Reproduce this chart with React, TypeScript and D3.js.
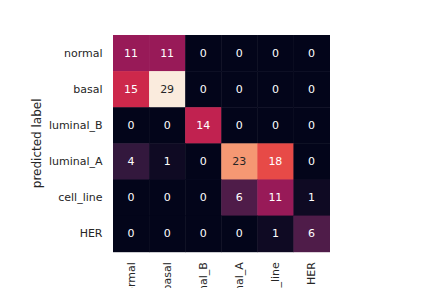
import React, { useRef, useEffect } from "react";
import * as d3 from "d3";

// confusion matrix data (rows = predicted label, cols = true label)
const rowLabels = ["normal", "basal", "luminal_B", "luminal_A", "cell_line", "HER"];
const colLabels = ["normal", "basal", "luminal_B", "luminal_A", "cell_line", "HER"];

const rowNormal = [11, 11, 0, 0, 0, 0];
const rowBasal = [15, 29, 0, 0, 0, 0];
const rowLuminalB = [0, 0, 14, 0, 0, 0];
const rowLuminalA = [4, 1, 0, 23, 18, 0];
const rowCellLine = [0, 0, 0, 6, 11, 1];
const rowHER = [0, 0, 0, 0, 1, 6];

const matrix = [rowNormal, rowBasal, rowLuminalB, rowLuminalA, rowCellLine, rowHER];

// seaborn "rocket" colormap stops
const rocketStops = [
  "#03051a",
  "#35193e",
  "#701f57",
  "#ad1759",
  "#e13342",
  "#f37651",
  "#f6b48f",
  "#faebdd",
];

const WIDTH = 432;
const HEIGHT = 288;
const BOX = { left: 113, top: 35, right: 329.5, bottom: 251.7 };
const FONT = "'DejaVu Sans', sans-serif";

export default function App() {
  const svgRef = useRef<SVGSVGElement>(null);

  useEffect(() => {
    const svg = d3.select(svgRef.current);
    svg.selectAll("*").remove();

    const x = d3.scaleBand().domain(colLabels).range([BOX.left, BOX.right]);
    const y = d3.scaleBand().domain(rowLabels).range([BOX.top, BOX.bottom]);

    const vmax = d3.max(matrix.flat()) as number;
    // piecewise linear through the stops
    const color = d3
      .scaleLinear<string>()
      .domain(rocketStops.map((_, i) => (i / (rocketStops.length - 1)) * vmax))
      .range(rocketStops)
      .interpolate(d3.interpolateRgb);

    const cells = matrix.flatMap((row, i) =>
      row.map((v, j) => ({ row: rowLabels[i], col: colLabels[j], v })),
    );

    svg
      .append("g")
      .selectAll("rect")
      .data(cells)
      .join("rect")
      .attr("x", (d) => x(d.col)!)
      .attr("y", (d) => y(d.row)!)
      .attr("width", x.bandwidth() + 0.5)
      .attr("height", y.bandwidth() + 0.5)
      .attr("fill", (d) => color(d.v));

    // annotations, dark text on light cells
    svg
      .append("g")
      .selectAll("text")
      .data(cells)
      .join("text")
      .attr("x", (d) => x(d.col)! + x.bandwidth() / 2)
      .attr("y", (d) => y(d.row)! + y.bandwidth() / 2)
      .attr("dy", "0.35em")
      .attr("text-anchor", "middle")
      .style("font-family", FONT)
      .style("font-size", "11px")
      .attr("fill", (d) => {
        const c = d3.rgb(color(d.v));
        const lum =
          0.2126 * Math.pow(c.r / 255, 2.2) +
          0.7152 * Math.pow(c.g / 255, 2.2) +
          0.0722 * Math.pow(c.b / 255, 2.2);
        return lum > 0.408 ? "#262626" : "#ffffff";
      })
      .text((d) => d.v);

    // y axis
    const yAxis = svg
      .append("g")
      .attr("transform", `translate(${BOX.left},0)`)
      .call(d3.axisLeft(y).tickSize(0).tickPadding(10.5));
    yAxis.select(".domain").remove();
    yAxis
      .selectAll("text")
      .style("font-family", FONT)
      .style("font-size", "11px")
      .attr("fill", "#262626");

    // x axis, labels rotated
    const xAxis = svg
      .append("g")
      .attr("transform", `translate(0,${BOX.bottom})`)
      .call(d3.axisBottom(x).tickSize(0).tickPadding(0));
    xAxis.select(".domain").remove();
    xAxis
      .selectAll("text")
      .style("font-family", FONT)
      .style("font-size", "11px")
      .attr("fill", "#262626")
      .attr("transform", "translate(0,10.5) rotate(-90)")
      .attr("text-anchor", "end")
      .attr("x", 0)
      .attr("y", 0)
      .attr("dy", "0.35em");

    svg
      .append("text")
      .attr("transform", `translate(37,${(BOX.top + BOX.bottom) / 2}) rotate(-90)`)
      .attr("text-anchor", "middle")
      .attr("dy", "0.35em")
      .style("font-family", FONT)
      .style("font-size", "12px")
      .attr("fill", "#262626")
      .text("predicted label");
  }, []);

  return (
    <svg
      ref={svgRef}
      width={WIDTH}
      height={HEIGHT}
      style={{ position: "absolute", left: 0, top: 0, background: "#fff" }}
    />
  );
}
